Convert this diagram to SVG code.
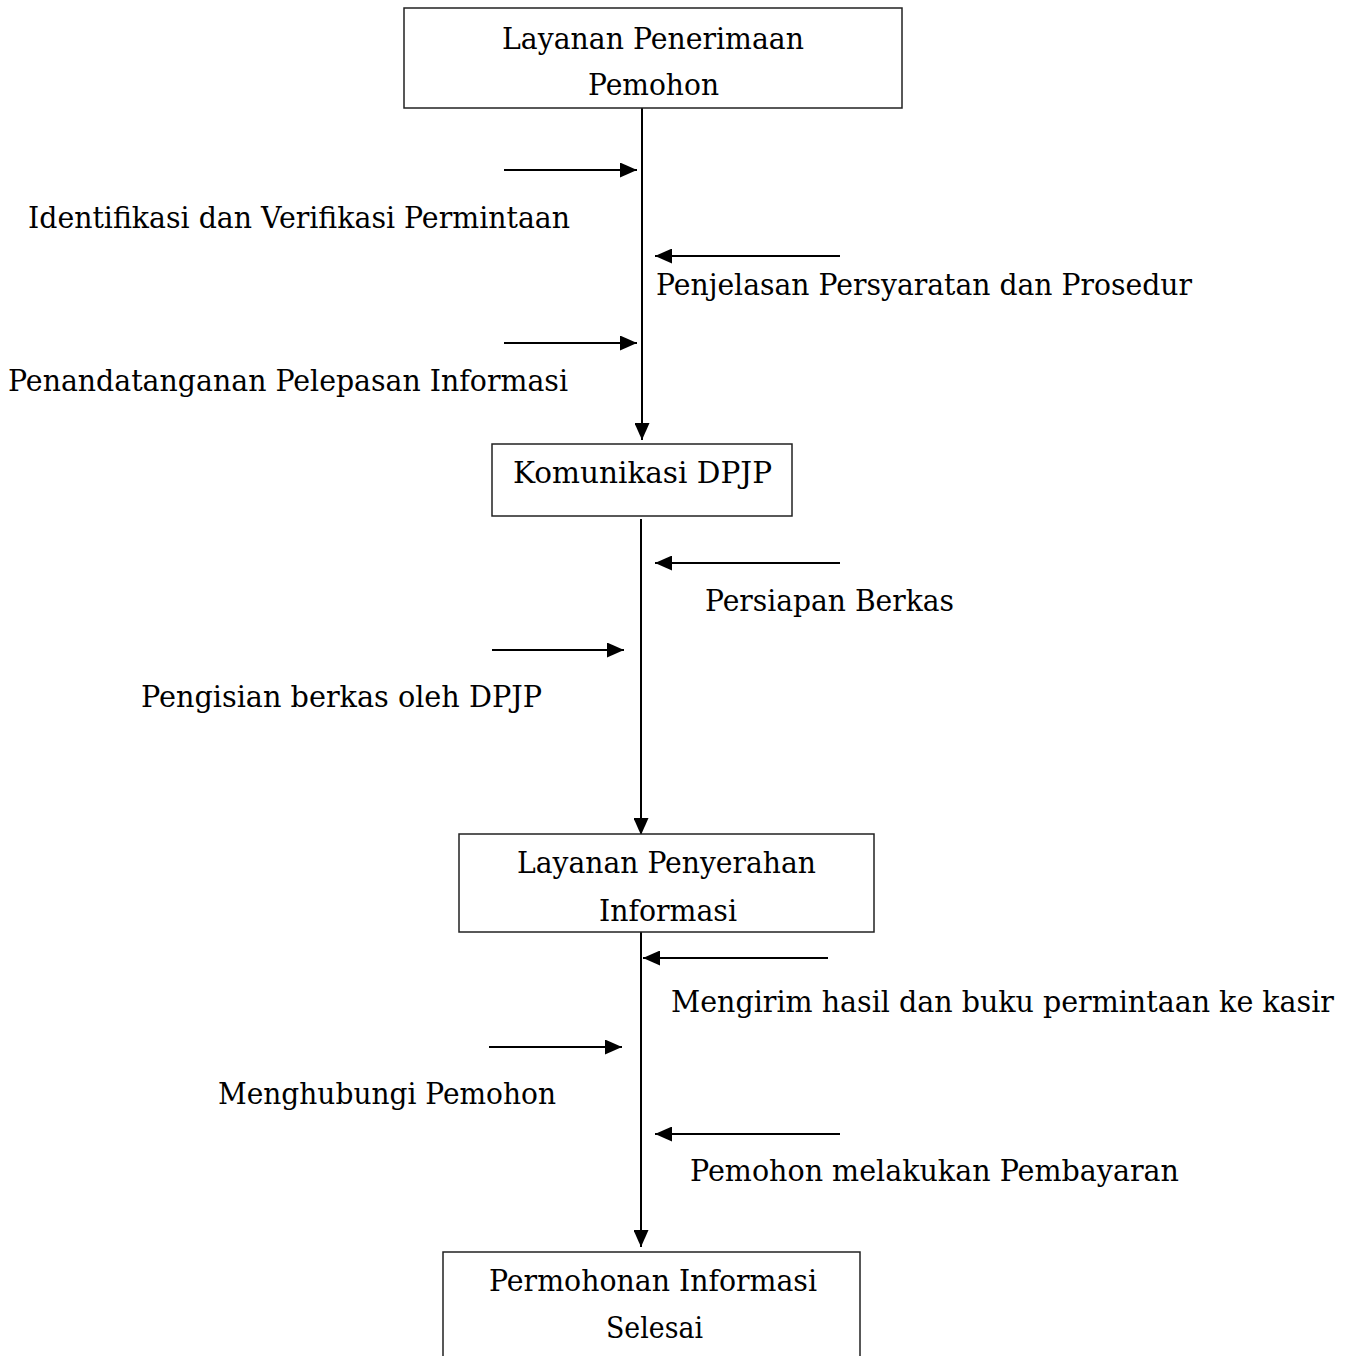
<svg xmlns="http://www.w3.org/2000/svg" width="1351" height="1356" viewBox="0 0 1351 1356">
<style>
.box{fill:#fff;stroke:#222;stroke-width:1.5}
.t{font-family:"DejaVu Serif","Liberation Serif",serif;font-size:29px;fill:#000}
.c{stroke:#000;stroke-width:2;fill:none}
</style>
<defs>
<marker id="ah" viewBox="0 0 17 15" refX="17" refY="7.5" markerWidth="17" markerHeight="15" markerUnits="userSpaceOnUse" orient="auto">
<path d="M0,0 L17,7.5 L0,15 z" fill="#000"/>
</marker>
</defs>
<rect width="1351" height="1356" fill="#fff"/>
<g id="connectors">
<line class="c" x1="642" y1="108" x2="642" y2="440" marker-end="url(#ah)"/>
<line class="c" x1="641" y1="519" x2="641" y2="835" marker-end="url(#ah)"/>
<line class="c" x1="641" y1="932" x2="641" y2="1247" marker-end="url(#ah)"/>
<line class="c" x1="504" y1="170" x2="637" y2="170" marker-end="url(#ah)"/>
<line class="c" x1="840" y1="256" x2="655" y2="256" marker-end="url(#ah)"/>
<line class="c" x1="504" y1="343" x2="637" y2="343" marker-end="url(#ah)"/>
<line class="c" x1="840" y1="563" x2="655" y2="563" marker-end="url(#ah)"/>
<line class="c" x1="492" y1="650" x2="624" y2="650" marker-end="url(#ah)"/>
<line class="c" x1="828" y1="958" x2="643" y2="958" marker-end="url(#ah)"/>
<line class="c" x1="489" y1="1047" x2="622" y2="1047" marker-end="url(#ah)"/>
<line class="c" x1="840" y1="1134" x2="655" y2="1134" marker-end="url(#ah)"/>
</g>
<g id="labels">
<text class="t" x="28" y="228" textLength="542" lengthAdjust="spacingAndGlyphs">Identifikasi dan Verifikasi Permintaan</text>
<text class="t" x="656" y="295" textLength="536" lengthAdjust="spacingAndGlyphs">Penjelasan Persyaratan dan Prosedur</text>
<text class="t" x="8" y="391" textLength="560" lengthAdjust="spacingAndGlyphs">Penandatanganan Pelepasan Informasi</text>
<text class="t" x="705" y="611" textLength="249" lengthAdjust="spacingAndGlyphs">Persiapan Berkas</text>
<text class="t" x="141" y="707" textLength="401" lengthAdjust="spacingAndGlyphs">Pengisian berkas oleh DPJP</text>
<text class="t" x="671" y="1012" textLength="663" lengthAdjust="spacingAndGlyphs">Mengirim hasil dan buku permintaan ke kasir</text>
<text class="t" x="218" y="1104" textLength="338" lengthAdjust="spacingAndGlyphs">Menghubungi Pemohon</text>
<text class="t" x="690" y="1181" textLength="489" lengthAdjust="spacingAndGlyphs">Pemohon melakukan Pembayaran</text>
</g>
<g id="node1">
<rect class="box" x="404" y="8" width="498" height="100"/>
<text class="t" x="502" y="49" textLength="302" lengthAdjust="spacingAndGlyphs">Layanan Penerimaan</text>
<text class="t" x="588" y="95" textLength="131" lengthAdjust="spacingAndGlyphs">Pemohon</text>
</g>
<g id="node2">
<rect class="box" x="492" y="444" width="300" height="72"/>
<text class="t" x="513" y="483" textLength="259" lengthAdjust="spacingAndGlyphs">Komunikasi DPJP</text>
</g>
<g id="node3">
<rect class="box" x="459" y="834" width="415" height="98"/>
<text class="t" x="517" y="873" textLength="299" lengthAdjust="spacingAndGlyphs">Layanan Penyerahan</text>
<text class="t" x="599" y="921" textLength="138" lengthAdjust="spacingAndGlyphs">Informasi</text>
</g>
<g id="node4">
<rect class="box" x="443" y="1252" width="417" height="120"/>
<text class="t" x="489" y="1291" textLength="328" lengthAdjust="spacingAndGlyphs">Permohonan Informasi</text>
<text class="t" x="606" y="1338" textLength="97" lengthAdjust="spacingAndGlyphs">Selesai</text>
</g>
</svg>
